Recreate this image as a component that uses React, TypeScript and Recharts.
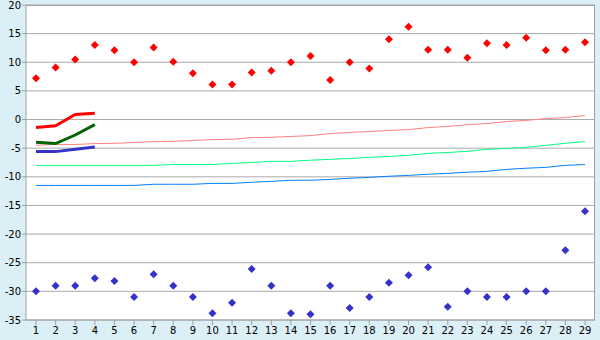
import { ComposedChart, Line, XAxis, YAxis, CartesianGrid } from "recharts"

const days = ["1", "2", "3", "4", "5", "6", "7", "8", "9", "10", "11", "12", "13", "14", "15", "16", "17", "18", "19", "20", "21", "22", "23", "24", "25", "26", "27", "28", "29"]

// daily extremes
const maxTemp = [7.2, 9.1, 10.5, 13.0, 12.1, 10.0, 12.6, 10.1, 8.1, 6.1, 6.1, 8.2, 8.5, 10.0, 11.1, 6.9, 10.0, 8.9, 14.0, 16.2, 12.2, 12.2, 10.8, 13.3, 13.0, 14.3, 12.1, 12.2, 13.5]
const minTemp = [-30, -29, -29, -27.7, -28.2, -31, -27, -29, -31, -33.8, -32, -26.1, -29, -33.8, -34, -29, -32.9, -31, -28.5, -27.2, -25.8, -32.7, -30, -31, -31, -30, -30, -22.8, -16]

// first days only
const curMax = [-1.4, -1.1, 0.9, 1.1]
const curMean = [-3.95, -4.2, -2.7, -0.9]
const curMin = [-5.6, -5.6, -5.2, -4.8]

// normals
const normMax = [-4.5, -4.35, -4.35, -4.2, -4.15, -4.0, -3.85, -3.8, -3.65, -3.5, -3.45, -3.15, -3.1, -2.95, -2.8, -2.45, -2.25, -2.1, -1.9, -1.75, -1.4, -1.2, -0.9, -0.7, -0.35, -0.15, 0.15, 0.35, 0.7]
const normMean = [-8.0, -8.0, -8.0, -8.0, -8.0, -8.0, -8.0, -7.85, -7.85, -7.85, -7.65, -7.5, -7.3, -7.3, -7.1, -6.95, -6.8, -6.6, -6.45, -6.25, -5.9, -5.75, -5.55, -5.2, -5.05, -4.85, -4.5, -4.15, -3.85]
const normMin = [-11.5, -11.5, -11.5, -11.5, -11.5, -11.5, -11.3, -11.3, -11.3, -11.15, -11.15, -10.95, -10.8, -10.6, -10.6, -10.45, -10.25, -10.1, -9.9, -9.75, -9.55, -9.4, -9.2, -9.05, -8.7, -8.5, -8.35, -8.0, -7.85]

const yTicks = [-35, -30, -25, -20, -15, -10, -5, 0, 5, 10, 15, 20]

const data = days.map((d, i) => ({
  day: d,
  max: maxTemp[i],
  min: minTemp[i],
  curMax: curMax[i],
  curMean: curMean[i],
  curMin: curMin[i],
  normMax: normMax[i],
  normMean: normMean[i],
  normMin: normMin[i],
}))

const diamond = (color: string) => (props: any) => {
  const { cx, cy, index } = props
  if (cx == null || cy == null) return <g key={index} />
  return (
    <path
      key={index}
      d={`M${cx},${cy - 4} L${cx + 4},${cy} L${cx},${cy + 4} L${cx - 4},${cy} Z`}
      fill={color}
    />
  )
}

const tickStyle = { fill: "#000", fontSize: 10, fontFamily: "DejaVu Sans, Verdana, sans-serif" }

export default function App() {
  return (
    <div style={{ position: "absolute", left: 0, top: 0, width: 600, height: 340, background: "#daeff6" }}>
      <ComposedChart width={600} height={340} data={data} margin={{ top: 5, right: 5, left: 0, bottom: 0 }}>
        <CartesianGrid vertical={false} stroke="#aaaaaa" fill="#fff" />
        <XAxis
          dataKey="day"
          height={20}
          stroke="#a0a0a0"
          tickSize={5}
          tickMargin={2}
          tick={tickStyle}
          interval={0}
          padding={{ left: 10, right: 10 }}
        />
        <YAxis
          width={26}
          domain={[-35, 20]}
          ticks={yTicks}
          stroke="#a0a0a0"
          tickSize={4}
          tickMargin={1}
          tick={tickStyle}
          interval={0}
        />
        <Line dataKey="normMax" stroke="#ff8080" strokeWidth={1} dot={false} isAnimationActive={false} />
        <Line dataKey="normMean" stroke="#00ff80" strokeWidth={1} dot={false} isAnimationActive={false} />
        <Line dataKey="normMin" stroke="#0080ff" strokeWidth={1} dot={false} isAnimationActive={false} />
        <Line dataKey="curMax" stroke="#ff0000" strokeWidth={3} dot={false} isAnimationActive={false} />
        <Line dataKey="curMean" stroke="#006400" strokeWidth={3} dot={false} isAnimationActive={false} />
        <Line dataKey="curMin" stroke="#3333cc" strokeWidth={3} dot={false} isAnimationActive={false} />
        <Line dataKey="max" stroke="none" dot={diamond("#ff0000")} activeDot={false} isAnimationActive={false} />
        <Line dataKey="min" stroke="none" dot={diamond("#3333cc")} activeDot={false} isAnimationActive={false} />
      </ComposedChart>
      <div
        style={{
          position: "absolute",
          left: 26,
          top: 5,
          width: 569,
          height: 315,
          boxSizing: "border-box",
          borderTop: "1px solid #a0a0a0",
          borderRight: "1px solid #a0a0a0",
          pointerEvents: "none",
        }}
      />
    </div>
  )
}
